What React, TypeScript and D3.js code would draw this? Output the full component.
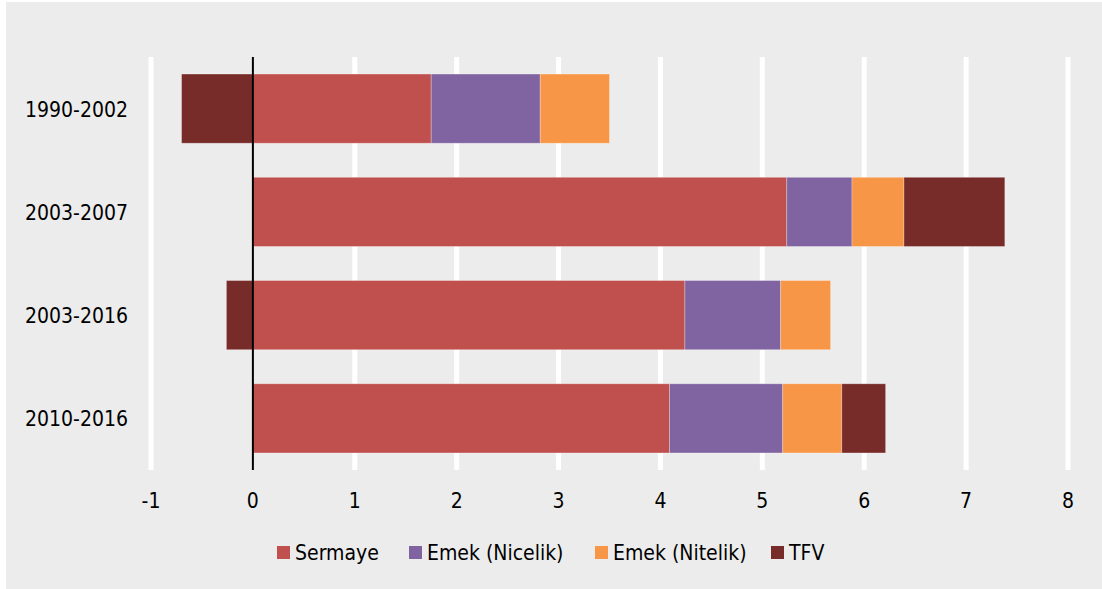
import { useEffect, useRef } from "react";
import * as d3 from "d3";

const periods = ["1990-2002", "2003-2007", "2003-2016", "2010-2016"];
const seriesNames = ["Sermaye", "Emek (Nicelik)", "Emek (Nitelik)", "TFV"];
const seriesColors = ["#c0504d", "#8064a2", "#f79646", "#772c2a"];

// değerler her dönem için sırasıyla
const sermaye = [1.75, 5.24, 4.24, 4.09];
const emekNicelik = [1.07, 0.64, 0.94, 1.11];
const emekNitelik = [0.68, 0.51, 0.49, 0.58];
const tfv = [-0.7, 0.99, -0.26, 0.43];

const xTicks = [-1, 0, 1, 2, 3, 4, 5, 6, 7, 8];

export default function App() {
  const ref = useRef<SVGSVGElement>(null);

  useEffect(() => {
    const width = 1102;
    const height = 589;
    const font = "'DejaVu Sans Condensed', 'DejaVu Sans', sans-serif";

    const svg = d3.select(ref.current);
    svg.selectAll("*").remove();

    svg.append("rect").attr("width", width).attr("height", height).attr("fill", "#fff");
    svg
      .append("rect")
      .attr("x", 6)
      .attr("y", 2)
      .attr("width", width - 6)
      .attr("height", height - 2)
      .attr("fill", "#ececec");

    const x = d3.scaleLinear().domain([-1, 8]).range([151, 1068]);
    const y = d3.scaleBand().domain(periods).range([57, 470]).paddingInner(0.33).paddingOuter(0.165);

    // grid
    svg
      .append("g")
      .selectAll("line")
      .data(xTicks.filter(t => t !== 0))
      .join("line")
      .attr("x1", d => x(d))
      .attr("x2", d => x(d))
      .attr("y1", 57)
      .attr("y2", 470)
      .attr("stroke", "#fff")
      .attr("stroke-width", 5);

    // stacked with positive / negative separation
    const all = [sermaye, emekNicelik, emekNitelik, tfv];
    const g = svg.append("g");
    periods.forEach((p, i) => {
      let pos = 0;
      let neg = 0;
      all.forEach((vals, s) => {
        const v = vals[i];
        let x0, x1;
        if (v >= 0) {
          x0 = pos;
          x1 = pos + v;
          pos = x1;
        } else {
          x1 = neg;
          x0 = neg + v;
          neg = x0;
        }
        g.append("rect")
          .attr("x", x(x0))
          .attr("y", y(p)!)
          .attr("width", x(x1) - x(x0))
          .attr("height", y.bandwidth())
          .attr("fill", seriesColors[s])
          .attr("stroke", "rgba(255,255,255,0.35)")
          .attr("stroke-width", 0.8);
      });
    });

    // zero line
    svg
      .append("line")
      .attr("x1", x(0))
      .attr("x2", x(0))
      .attr("y1", 57)
      .attr("y2", 470)
      .attr("stroke", "#000")
      .attr("stroke-width", 2);

    // tick labels
    svg
      .append("g")
      .selectAll("text")
      .data(xTicks)
      .join("text")
      .attr("x", d => x(d))
      .attr("y", 508)
      .attr("text-anchor", "middle")
      .style("font-family", font)
      .style("font-size", "21px")
      .attr("fill", "#000")
      .text(d => String(d));

    svg
      .append("g")
      .selectAll("text")
      .data(periods)
      .join("text")
      .attr("x", 128)
      .attr("y", d => y(d)! + y.bandwidth() / 2 + 8)
      .attr("text-anchor", "end")
      .style("font-family", font)
      .style("font-size", "21px")
      .attr("fill", "#000")
      .text(d => d);

    // legend
    const legendX = [277, 409, 595, 771];
    const lg = svg.append("g");
    seriesNames.forEach((name, i) => {
      lg.append("rect")
        .attr("x", legendX[i])
        .attr("y", 546)
        .attr("width", 13)
        .attr("height", 13)
        .attr("fill", seriesColors[i]);
      lg.append("text")
        .attr("x", legendX[i] + 18)
        .attr("y", 560)
        .style("font-family", font)
        .style("font-size", "21px")
        .attr("fill", "#000")
        .text(name);
    });
  }, []);

  return (
    <svg
      ref={ref}
      width={1102}
      height={589}
      style={{ position: "absolute", left: 0, top: 0, display: "block" }}
    />
  );
}
